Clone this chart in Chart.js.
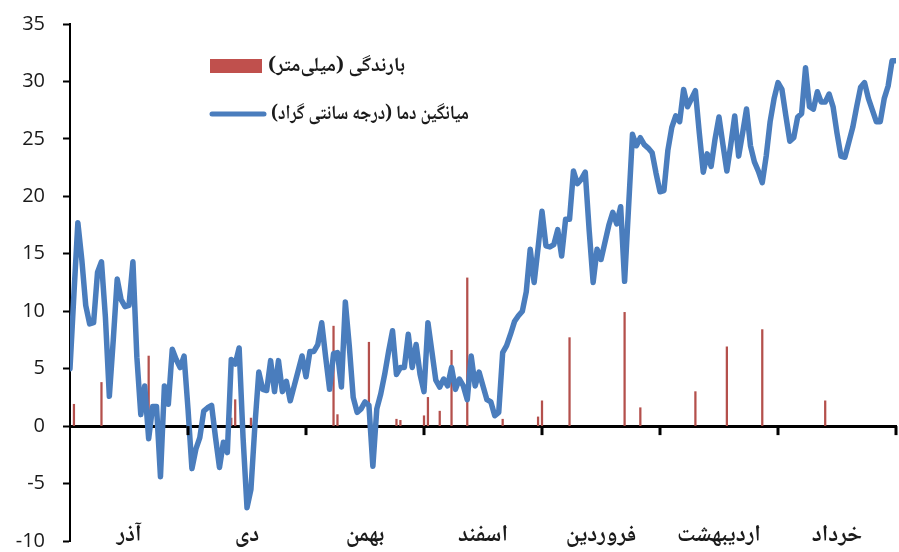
<!DOCTYPE html>
<html>
<head>
<meta charset="utf-8">
<script src="https://cdn.jsdelivr.net/npm/chart.js@4.4.1/dist/chart.umd.min.js"></script>
<style>
  html, body { margin: 0; padding: 0; background: #fff; }
  #wrap { width: 899px; height: 552px; }
</style>
</head>
<body>
<div id="wrap"><canvas id="chart"></canvas></div>
<script>
var months = ['آذر', 'دی', 'بهمن', 'اسفند', 'فروردین', 'اردیبهشت', 'خرداد'];
var daysPerTick = 30;
var rainLabel = 'بارندگی (میلی‌متر)';
var tempLabel = 'میانگین دما (درجه سانتی گراد)';
var yTicks = [-10, 35, 5]; // min, max, step

// daily mean temperature, day 0 = first of Azar
var temps = [
  5.0, 11.5, 17.7, 14.5, 10.5, 8.9, 9.0, 13.4, 14.3, 9.5,
  2.6, 7.5, 12.8, 11.0, 10.4, 10.5, 14.3, 6.0, 1.0, 3.5,
  -1.1, 1.7, 1.7, -4.4, 3.5, 1.9, 6.7, 5.8, 5.1, 6.1,
  1.5, -3.7, -2.0, -1.0, 1.3, 1.6, 1.8, -1.0, -3.6, -1.4,
  -2.3, 5.8, 5.4, 6.8, -1.0, -7.1, -5.5, 0.0, 4.7, 3.2,
  3.1, 5.7, 3.0, 5.7, 3.0, 3.9, 2.2, 3.5, 4.8, 6.1,
  4.3, 6.5, 6.5, 7.1, 9.0, 6.0, 3.2, 6.3, 6.4, 3.4,
  10.8, 7.0, 2.5, 1.2, 1.5, 2.1, 1.8, -3.5, 1.5, 2.8,
  4.5, 6.5, 8.3, 4.5, 5.1, 5.1, 8.0, 5.1, 7.1, 4.5,
  3.0, 9.0, 6.5, 4.0, 3.4, 4.1, 3.5, 5.1, 3.2, 4.1,
  3.5, 2.3, 6.1, 3.5, 4.7, 3.5, 2.3, 2.1, 0.9, 1.2,
  6.4, 7.0, 8.0, 9.1, 9.6, 10.0, 11.7, 15.4, 12.5, 15.5,
  18.7, 15.7, 15.6, 15.8, 17.1, 14.8, 18.0, 18.0, 22.2, 21.1,
  21.5, 22.1, 17.0, 12.5, 15.4, 14.5, 16.0, 17.5, 18.6, 17.6,
  19.1, 12.6, 19.0, 25.4, 24.4, 25.1, 24.5, 24.2, 23.8, 22.0,
  20.4, 20.5, 24.0, 26.0, 27.0, 26.5, 29.3, 27.8, 28.5, 29.2,
  25.5, 22.1, 23.7, 22.6, 25.0, 26.9, 24.5, 22.2, 24.5, 27.0,
  23.5, 25.5, 27.6, 24.4, 23.0, 22.2, 21.2, 23.5, 26.5, 28.5,
  29.9, 29.3, 27.0, 24.8, 25.1, 26.9, 27.2, 31.2, 27.8, 27.6,
  29.1, 28.2, 28.2, 28.9, 27.8, 25.5, 23.5, 23.4, 24.7, 26.0,
  27.8, 29.5, 29.9, 28.5, 27.5, 26.5, 26.5, 28.5, 29.6, 31.8,
  31.8
];

// rainy days (day index) and the rainfall on each, mm
var rainDays = [1, 8, 20, 41, 42, 46, 67, 68, 76, 83, 84, 90, 91, 94, 97, 101, 110, 119, 120, 127, 141, 145, 159, 167, 176, 192];
var rainMm = [1.9, 3.8, 6.1, 0.7, 2.3, 0.7, 8.7, 1.0, 7.3, 0.6, 0.5, 0.9, 2.5, 1.3, 6.6, 12.9, 0.6, 0.8, 2.2, 7.7, 9.9, 1.6, 3.0, 6.9, 8.4, 2.2];

var totalDays = months.length * daysPerTick;
var textColor = '#1a1a1a';
var persianFont = '"Noto Naskh Arabic", "Noto Sans Arabic", "DejaVu Sans", sans-serif';

// ticks at fixed day positions: boundaries for the marks, midpoints for the names
function dayTicks(shift) {
  var out = [];
  for (var d = shift; d <= totalDays; d += daysPerTick) out.push({ value: d });
  return out;
}

// short month-boundary marks hanging under the zero line
var zeroLineMarks = {
  id: 'zeroLineMarks',
  afterDatasetsDraw: function(chart) {
    var ctx = chart.ctx;
    var xs = chart.scales.x;
    var y0 = chart.scales.y.getPixelForValue(0);
    ctx.save();
    ctx.strokeStyle = '#000';
    ctx.lineWidth = 3;
    dayTicks(daysPerTick).forEach(function(t) {
      var px = Math.round(xs.getPixelForValue(t.value));
      ctx.beginPath();
      ctx.moveTo(px, y0);
      ctx.lineTo(px, y0 + 9);
      ctx.stroke();
    });
    ctx.restore();
  }
};

// legend box drawn inside the plot, upper left
var insideLegend = {
  id: 'insideLegend',
  afterDraw: function(chart) {
    var ctx = chart.ctx;
    var area = chart.chartArea;
    var x = area.left + 140;
    var rows = [area.top + 42, area.top + 90];
    var textWidths = [172, 198];
    ctx.save();
    ctx.font = 'bold 20px ' + persianFont;
    ctx.fillStyle = textColor;
    ctx.textBaseline = 'middle';
    ctx.direction = 'rtl';
    ctx.textAlign = 'left';
    chart.data.datasets.forEach(function(ds, k) {
      var y = rows[k];
      if (ds.type === 'line') {
        ctx.strokeStyle = ds.borderColor;
        ctx.lineWidth = 5;
        ctx.lineCap = 'round';
        ctx.beginPath();
        ctx.moveTo(x + 2, y);
        ctx.lineTo(x + 54, y);
        ctx.stroke();
        ctx.fillText(ds.label, x + 61, y + 2, textWidths[k]);
      } else {
        ctx.fillStyle = ds.legendColor;
        ctx.fillRect(x, y - 7, 52, 14);
        ctx.fillStyle = textColor;
        ctx.fillText(ds.label, x + 58, y + 2, textWidths[k]);
      }
    });
    ctx.restore();
  }
};

new Chart(document.getElementById('chart'), {
  type: 'bar',
  data: {
    datasets: [
      {
        type: 'bar',
        label: rainLabel,
        data: rainDays.map(function(d, k) { return { x: d, y: rainMm[k] }; }),
        backgroundColor: '#b4504c',
        legendColor: '#c0504d',
        barThickness: 1.6,
        order: 1
      },
      {
        type: 'line',
        label: tempLabel,
        data: temps.map(function(t, i) { return { x: i, y: t }; }),
        borderColor: '#4a7dbd',
        borderWidth: 5.5,
        pointRadius: 0,
        tension: 0,
        borderJoinStyle: 'round',
        borderCapStyle: 'round',
        order: 0
      }
    ]
  },
  options: {
    responsive: true,
    maintainAspectRatio: false,
    animation: false,
    layout: { padding: { top: 24, right: 3, bottom: 11, left: 0 } },
    plugins: {
      legend: { display: false },
      tooltip: { enabled: false }
    },
    scales: {
      x: {
        type: 'linear',
        min: 0,
        max: totalDays,
        offset: false,
        position: { y: 0 },
        border: { color: '#000', width: 3 },
        grid: { display: false },
        ticks: { display: false }
      },
      months: {
        type: 'linear',
        axis: 'x',
        min: 0,
        max: totalDays,
        offset: false,
        position: { y: -8.5 },
        border: { display: false },
        grid: { display: false, drawTicks: false, offset: false },
        afterBuildTicks: function(scale) { scale.ticks = dayTicks(daysPerTick / 2); },
        ticks: {
          padding: 0,
          autoSkip: false,
          maxRotation: 0,
          color: textColor,
          font: { family: persianFont, size: 23, weight: 'bold' },
          callback: function(v) { return months[Math.floor(v / daysPerTick)]; }
        }
      },
      y: {
        min: yTicks[0],
        max: yTicks[1],
        position: 'left',
        border: { color: '#000', width: 2 },
        grid: { drawOnChartArea: false, tickLength: 7, tickWidth: 2, tickColor: '#000' },
        ticks: {
          stepSize: yTicks[2],
          padding: 18,
          color: textColor,
          font: { family: '"Open Sans", sans-serif', size: 20 }
        },
        afterFit: function(scale) {
          // fixed axis width; edge labels may overhang the plot
          scale.width = 70;
          scale.paddingTop = 0;
          scale.paddingBottom = 0;
        }
      }
    }
  },
  plugins: [zeroLineMarks, insideLegend]
});
</script>
</body>
</html>
